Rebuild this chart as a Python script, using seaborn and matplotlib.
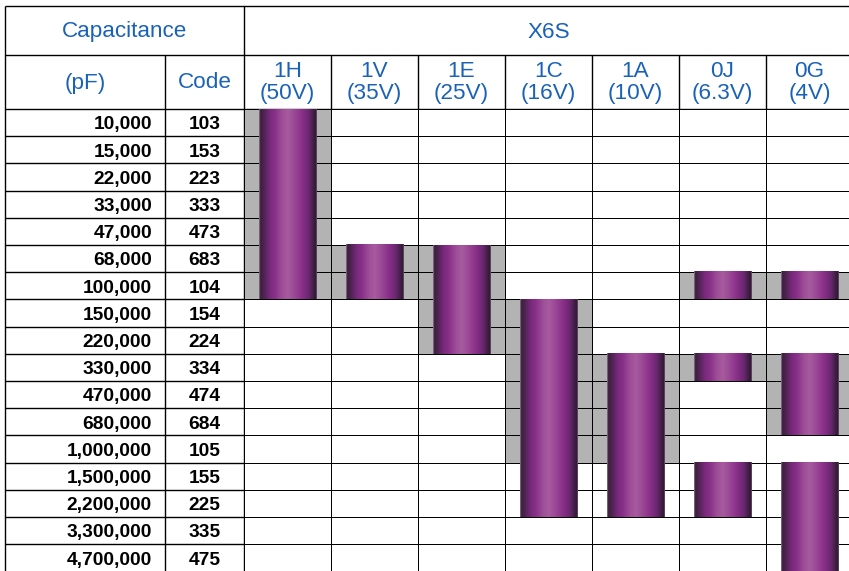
import matplotlib
matplotlib.use("Agg")
import matplotlib.pyplot as plt
from matplotlib.colors import ListedColormap, LinearSegmentedColormap
import numpy as np
import pandas as pd
import seaborn as sns

# --- data -------------------------------------------------------------
voltages = ["1H", "1V", "1E", "1C", "1A", "0J", "0G"]
volt_ratings = ["(50V)", "(35V)", "(25V)", "(16V)", "(10V)", "(6.3V)", "(4V)"]
capacitance = ["10,000", "15,000", "22,000", "33,000", "47,000", "68,000",
               "100,000", "150,000", "220,000", "330,000", "470,000", "680,000",
               "1,000,000", "1,500,000", "2,200,000", "3,300,000", "4,700,000"]
codes = ["103", "153", "223", "333", "473", "683", "104", "154", "224", "334",
         "474", "684", "105", "155", "225", "335", "475"]

# purple bars: voltage, first code, last code
bar_voltage = ["1H", "1V", "1E", "1C", "1A", "0J", "0J", "0J", "0G", "0G", "0G"]
bar_from = ["103", "683", "683", "154", "334", "104", "334", "155", "104", "334", "155"]
bar_to = ["104", "104", "224", "225", "225", "104", "334", "225", "104", "684", "475"]

# grey shaded cells: voltage, first code, last code
shade_voltage = ["1H", "1V", "1E", "1C", "1A", "0J", "0J", "0G", "0G"]
shade_from = ["103", "683", "683", "154", "334", "104", "334", "104", "334"]
shade_to = ["104", "104", "224", "105", "105", "104", "334", "104", "684"]

blue = "#1a62b8"
W, H = 849, 571
row_top, row_h = 109, 27.2
col_left, col_w = 244, 87

shade = pd.DataFrame(0, index=codes, columns=voltages)
for v, a, b in zip(shade_voltage, shade_from, shade_to):
    shade.loc[a:b, v] = 1

cyl = LinearSegmentedColormap.from_list("cyl", [
    (0.00, "#9a86a0"), (0.02, "#3c1f3e"), (0.08, "#4e2350"), (0.18, "#76297b"),
    (0.28, "#8a3189"), (0.40, "#9e4f98"), (0.50, "#a85a9f"), (0.60, "#9c4b96"),
    (0.74, "#8a2f89"), (0.86, "#6a2870"), (0.95, "#3e1d42"), (0.985, "#2f1832"),
    (1.00, "#7a6680")])

fig = plt.figure(figsize=(W / 100, H / 100), dpi=100)
frame = fig.add_axes([0, 0, 1, 1])
frame.set_xlim(0, W)
frame.set_ylim(H, 0)
frame.axis("off")

n = len(codes)
grid_bottom = row_top + n * row_h
ax = fig.add_axes([col_left / W, (H - grid_bottom) / H,
                   len(voltages) * col_w / W, n * row_h / H])
sns.heatmap(shade, ax=ax, cmap=ListedColormap(["white", "#b3b3b3"]),
            vmin=0, vmax=1, cbar=False, linewidths=0.7, linecolor="black")
ax.set_xticks([])
ax.set_yticks([])
ax.set_xlabel("")
ax.set_ylabel("")

grad = np.linspace(0, 1, 256).reshape(1, -1)
for v, a, b in zip(bar_voltage, bar_from, bar_to):
    c = voltages.index(v)
    r0, r1 = codes.index(a), codes.index(b) + 1
    ax.imshow(grad, cmap=cyl, aspect="auto", interpolation="bilinear",
              extent=(c + 0.17, c + 0.83, r1, r0), zorder=3)
ax.set_xlim(0, len(voltages))
ax.set_ylim(n, 0)

# --- header and left columns -------------------------------------------
lw = 1.0
right = col_left + len(voltages) * col_w
frame.hlines([6, 55, row_top], 5, right, color="black", lw=lw)
frame.vlines(5, 6, H, color="black", lw=lw)
frame.vlines(col_left, 6, H, color="black", lw=lw)
frame.vlines(165, 55, H, color="black", lw=lw)
frame.vlines([col_left + k * col_w for k in range(1, len(voltages))], 55, row_top,
             color="black", lw=lw)
frame.hlines([row_top + k * row_h for k in range(1, n)], 5, col_left,
             color="black", lw=lw)

txt = dict(family="Liberation Sans", color=blue, fontsize=16.2, ha="center",
           va="baseline")
frame.text((5 + col_left) / 2, 37.5, "Capacitance", **txt)
frame.text((col_left + right) / 2, 37.5, "X6S", **txt)
frame.text(85, 88.5, "(pF)", **txt)
frame.text((165 + col_left) / 2, 88.5, "Code", **txt)
for k, (v, r) in enumerate(zip(voltages, volt_ratings)):
    cx = col_left + (k + 0.5) * col_w
    frame.text(cx, 77, v, **txt)
    frame.text(cx, 99.5, r, **txt)

for i, (cap, code) in enumerate(zip(capacitance, codes)):
    yb = row_top + (i + 0.5) * row_h + 6.8
    frame.text(152, yb, cap, family="Liberation Sans", fontsize=13.8,
               fontweight="bold", ha="right", va="baseline")
    frame.text((165 + col_left) / 2, yb, code, family="Liberation Sans",
               fontsize=13.8, fontweight="bold", ha="center", va="baseline")

fig.savefig("out.png", dpi=100)
